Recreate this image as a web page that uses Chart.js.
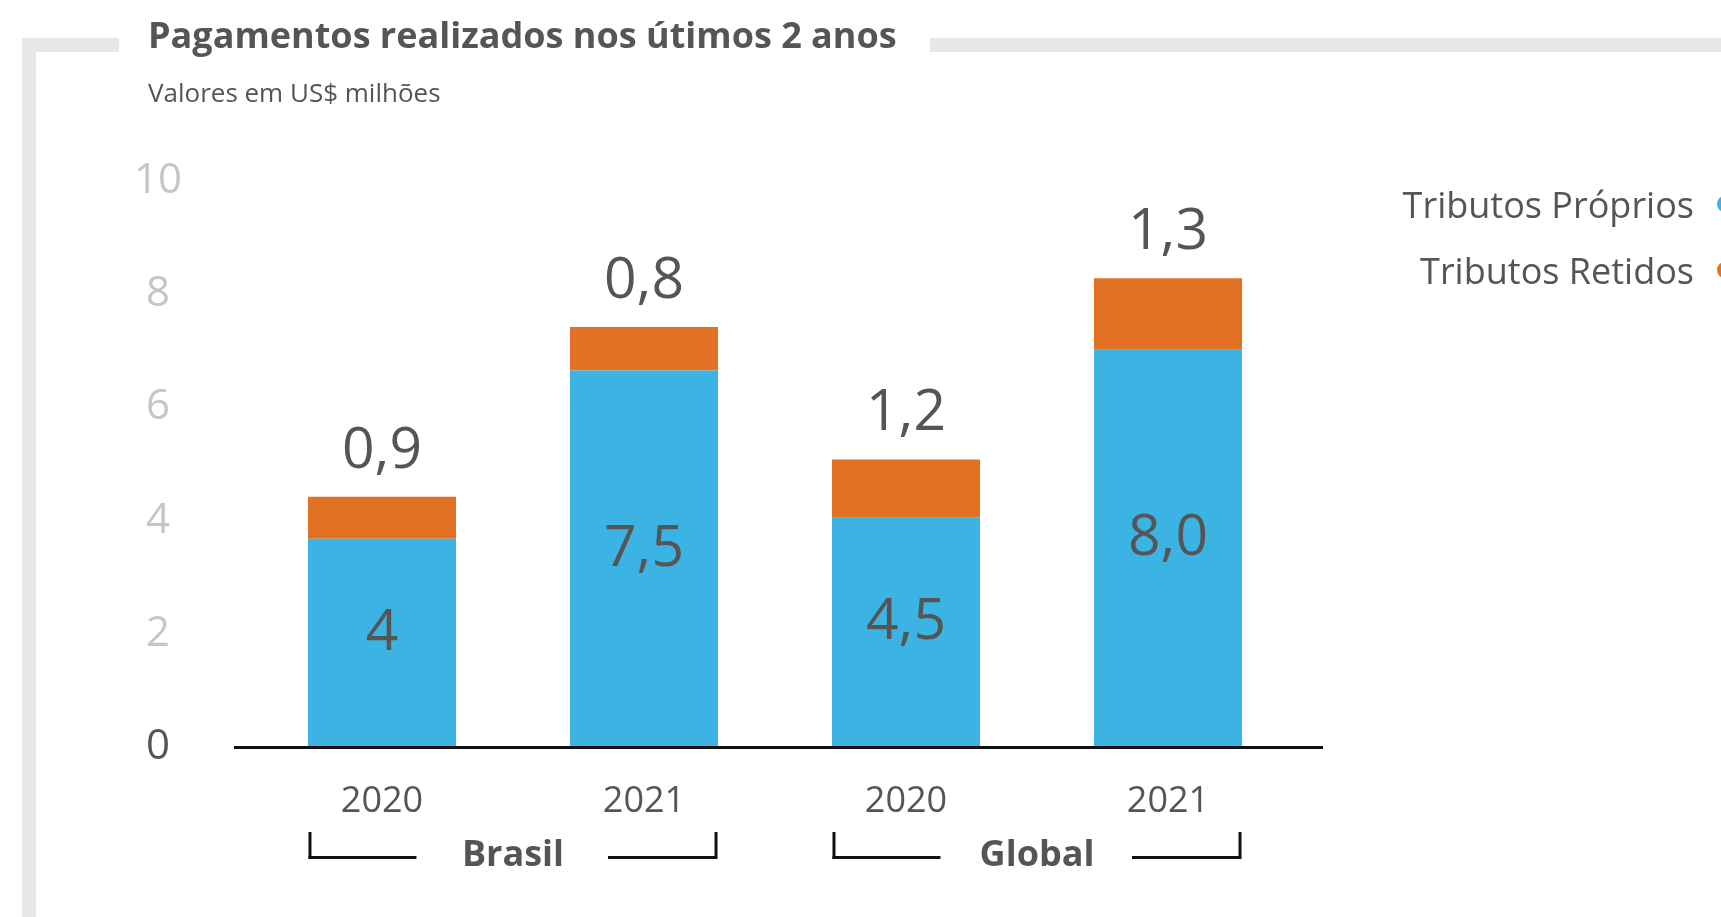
<!DOCTYPE html>
<html><head><meta charset="utf-8">
<script src="https://cdn.jsdelivr.net/npm/chart.js@4"></script>
<style>html,body{margin:0;padding:0;background:#fff;overflow:hidden}
#wrap{position:relative;width:1721px;height:917px}
canvas{display:block}
</style></head><body><div id="wrap"><canvas id="c" width="1721" height="917"></canvas></div>
<script>
const titleText = 'Pagamentos realizados nos útimos 2 anos';
const subtitleText = 'Valores em US$ milhões';
const categories = ['2020', '2021', '2020', '2021'];
const groups = ['Brasil', 'Global'];
const seriesNames = ['Tributos Próprios', 'Tributos Retidos'];
const proprios = [3.68, 6.65, 4.05, 7.02];
const retidos = [0.74, 0.77, 1.03, 1.26];
const propriosLabels = ['4', '7,5', '4,5', '8,0'];
const retidosLabels = ['0,9', '0,8', '1,2', '1,3'];
const yMin = 0, yMax = 10, yStep = 2;

const FONT = '"Open Sans", sans-serif';
const TEXT = '#555555';
const BLUE = '#3CB4E3';
const ORANGE = '#E17224';

const extras = {
  id: 'extras',
  beforeDraw(chart) {
    const ctx = chart.ctx;
    ctx.save();
    ctx.fillStyle = '#ffffff';
    ctx.fillRect(0, 0, chart.width, chart.height);
    ctx.fillStyle = '#E6E7E8';
    ctx.fillRect(22, 38, 14, 879);
    ctx.fillRect(22, 38, 97, 14);
    ctx.fillRect(930, 38, 791, 14);
    ctx.fillStyle = TEXT;
    ctx.textAlign = 'left';
    ctx.textBaseline = 'alphabetic';
    ctx.font = 'bold 36px ' + FONT;
    ctx.fillText(titleText, 148, 48);
    ctx.font = '26px ' + FONT;
    ctx.fillText(subtitleText, 148, 102);
    ctx.restore();
  },
  afterDatasetsDraw(chart) {
    const ctx = chart.ctx;
    const y = chart.scales.y;
    const y0 = y.getPixelForValue(0);
    ctx.save();
    // axis line
    ctx.fillStyle = '#111111';
    ctx.fillRect(234, y0 - 1, 1089, 3);
    // data labels
    const m0 = chart.getDatasetMeta(0).data;
    const m1 = chart.getDatasetMeta(1).data;
    ctx.fillStyle = TEXT;
    ctx.textAlign = 'center';
    ctx.textBaseline = 'alphabetic';
    ctx.font = '57px ' + FONT;
    m0.forEach((b, j) => {
      ctx.fillText(propriosLabels[j], b.x, (b.y + b.base) / 2 + 7);
    });
    m1.forEach((b, j) => {
      ctx.fillText(retidosLabels[j], b.x, b.y - 29);
    });
    // group brackets
    groups.forEach((g, gi) => {
      const a = m0[gi * 2], c = m0[gi * 2 + 1];
      const left = a.x - a.width / 2 + 2;
      const right = c.x + c.width / 2 - 2;
      const top = y0 + 85, bot = y0 + 112;
      ctx.fillStyle = '#111111';
      ctx.fillRect(left - 1.5, top, 3, bot - top);
      ctx.fillRect(left - 1.5, bot - 3, 108, 3);
      ctx.fillRect(right - 1.5, top, 3, bot - top);
      ctx.fillRect(right - 108, bot - 3, 108, 3);
      ctx.fillStyle = TEXT;
      ctx.font = 'bold 36px ' + FONT;
      ctx.textAlign = 'center';
      ctx.fillText(g, (left + right) / 2, y0 + 119);
    });
    // legend (text then marker)
    chart.data.datasets.forEach((ds, i) => {
      ctx.fillStyle = TEXT;
      ctx.font = '36px ' + FONT;
      ctx.textAlign = 'right';
      ctx.fillText(ds.label, 1694, 218 + 66 * i);
      ctx.fillStyle = ds.backgroundColor;
      ctx.beginPath();
      ctx.arc(1725, 204 + 66 * i, 8, 0, Math.PI * 2);
      ctx.fill();
    });
    ctx.restore();
  }
};

new Chart(document.getElementById('c'), {
  type: 'bar',
  data: {
    labels: categories,
    datasets: [
      { label: seriesNames[0], data: proprios, backgroundColor: BLUE, stack: 's' },
      { label: seriesNames[1], data: retidos, backgroundColor: ORANGE, stack: 's' }
    ]
  },
  options: {
    responsive: false,
    animation: false,
    devicePixelRatio: 1,
    barPercentage: 0.565,
    categoryPercentage: 1,
    layout: { padding: { top: 181, right: 422, left: 0, bottom: 0 } },
    plugins: { legend: { display: false }, tooltip: { enabled: false }, title: { display: false } },
    scales: {
      x: {
        stacked: true,
        grid: { display: false },
        border: { display: false },
        ticks: { color: TEXT, font: { family: FONT, size: 36 }, padding: 25, maxRotation: 0 },
        afterFit: s => { s.height = 170; }
      },
      y: {
        stacked: true,
        min: yMin, max: yMax,
        grid: { display: false },
        border: { display: false },
        ticks: {
          stepSize: yStep,
          crossAlign: 'center',
          padding: 61,
          font: { family: FONT, size: 42 },
          color: c => (c.tick && c.tick.value === 0 ? TEXT : '#C4C6C8')
        },
        afterFit: s => { s.width = 251; }
      }
    }
  },
  plugins: [extras]
});
</script></body></html>
